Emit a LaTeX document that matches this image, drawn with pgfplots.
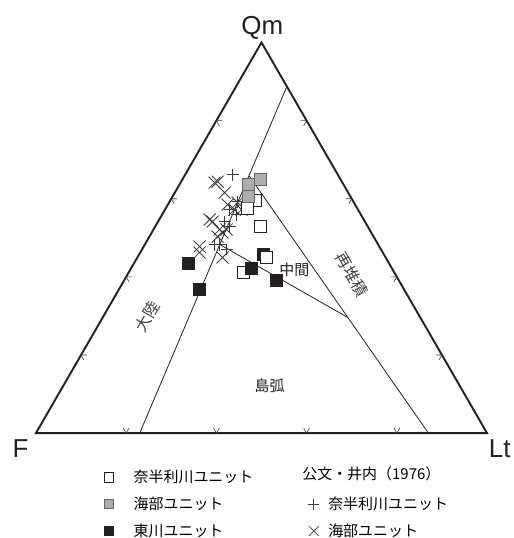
\documentclass[border=0pt]{standalone}
\usepackage{pgfplots}
\pgfplotsset{compat=1.18}
\usepackage{fontspec}
\setmainfont{Liberation Sans}
\newfontfamily\jp{Noto Sans CJK JP}
\definecolor{ink}{HTML}{231F20}
\definecolor{unitgray}{HTML}{ADADAD}
\definecolor{markgray}{HTML}{3A3A3A}

% ternary points in Cartesian form: F=(0,0), Lt=(100,0), Qm=(50,86.6)
\pgfplotstableread{
x y
48.67 51.55
46.90 49.78
49.78 45.80
46.02 35.62
}\nahari
\pgfplotstableread{
x y
51.11 38.94
}\nahariTop
\pgfplotstableread{
x y
49.78 56.19
47.12 55.09
47.12 52.43
}\kaifu
\pgfplotstableread{
x y
33.85 37.61
36.28 31.86
47.79 36.50
50.44 39.60
53.32 33.85
}\higashi
\pgfplotstableread{
x y
43.58 57.30
44.69 51.33
42.92 49.56
44.47 48.45
41.81 46.90
42.92 45.80
39.60 41.81
40.71 41.81
42.26 40.71
}\kumonA
\pgfplotstableread{
x y
39.60 55.53
40.27 55.75
41.81 53.32
42.48 50.66
44.69 51.11
44.03 49.56
45.58 49.56
38.50 47.35
39.16 46.90
40.71 45.13
42.26 45.13
40.27 43.58
41.37 44.47
36.28 41.37
36.28 40.04
41.37 38.94
}\kumonB

\begin{document}
\begin{tikzpicture}
\begin{axis}[
  hide axis, scale only axis, clip=false,
  width=514pt, height=538pt,
  xmin=-7.965, xmax=105.75, ymin=-23.01, ymax=96.02,
  legend style={draw=none, fill=none, inner sep=0pt, outer sep=0pt,
    at={(axis cs:15.15,-8.2)}, anchor=north west,
    font=\jp\fontsize{15}{15}\selectfont, legend columns=2,
    nodes={inner sep=0pt, text height=12pt, text depth=2pt},
    row sep=13pt,
    /tikz/column 1/.style={column sep=20pt},
    /tikz/column 2/.style={column sep=52pt},
    /tikz/column 3/.style={column sep=9pt}},
  legend cell align=left,
]
% fields
\draw[ink, line width=1.9pt, line join=miter] (axis cs:0,0) -- (axis cs:100,0) -- (axis cs:50,86.6) -- cycle;
\draw[ink, line width=0.8pt] (axis cs:23.0,0) -- (axis cs:55.6,76.8);
\draw[ink, line width=0.8pt] (axis cs:47.3,57.0) -- (axis cs:87.0,0);
\draw[ink, line width=0.8pt] (axis cs:40.8,41.8) -- (axis cs:69.2,25.6);
% side ticks
\pgfplotsinvokeforeach{20,40,60,80}{
  \draw[markgray, line width=0.6pt] (axis cs:#1-0.65,1.13) -- (axis cs:#1,0) -- (axis cs:#1+0.65,1.13);
}
\pgfplotsinvokeforeach{0.2,0.4,0.6,0.8}{
  \draw[markgray, line width=0.6pt] (axis cs:{50*#1+1.3},{86.6*#1}) -- (axis cs:{50*#1},{86.6*#1}) -- (axis cs:{50*#1+0.65},{86.6*#1-1.13});
  \draw[markgray, line width=0.6pt] (axis cs:{100-50*#1-1.3},{86.6*#1}) -- (axis cs:{100-50*#1},{86.6*#1}) -- (axis cs:{100-50*#1-0.65},{86.6*#1-1.13});
}
% data
\addplot[forget plot, only marks, mark=x, mark size=8.5pt, markgray, line width=0.85pt] table {\kumonB};
\addplot[forget plot, only marks, mark=+, mark size=6pt, markgray, line width=0.85pt] table {\kumonA};
\addplot[forget plot, only marks, mark=square*, mark size=5.8pt, draw=ink, fill=white, line width=0.8pt] table {\nahari};
\addplot[forget plot, only marks, mark=square*, mark size=5.8pt, draw=ink, fill=ink, line width=0.8pt] table {\higashi};
\addplot[forget plot, only marks, mark=square*, mark size=5.8pt, draw=ink, fill=white, line width=0.8pt] table {\nahariTop};
\addplot[forget plot, only marks, mark=square*, mark size=5.8pt, draw=black!60, fill=unitgray, line width=0.8pt] table {\kaifu};
% legend
\addlegendimage{only marks, mark=square*, mark size=4.7pt, draw=ink, fill=white, line width=0.6pt}
\addlegendentry{奈半利川ユニット}
\addlegendimage{empty legend}
\addlegendentry{\hspace*{-26pt}\smash{\raisebox{3pt}{公文・井内（1976）}}}
\addlegendimage{only marks, mark=square*, mark size=4.7pt, draw=black!60, fill=unitgray, line width=0.6pt}
\addlegendentry{海部ユニット}
\addlegendimage{only marks, mark=+, mark size=5.5pt, markgray, line width=0.7pt}
\addlegendentry{奈半利川ユニット}
\addlegendimage{only marks, mark=square*, mark size=4.7pt, draw=ink, fill=ink, line width=0.6pt}
\addlegendentry{東川ユニット}
\addlegendimage{only marks, mark=x, mark size=7pt, markgray, line width=0.7pt}
\addlegendentry{海部ユニット}
% labels
\node[anchor=base, font=\fontsize{26}{26}\selectfont, text=ink] at (axis cs:50.2,88.3) {Qm};
\node[anchor=base, font=\fontsize{26}{26}\selectfont, text=ink] at (axis cs:-3.4,-5.4) {F};
\node[anchor=base, font=\fontsize{26}{26}\selectfont, text=ink] at (axis cs:102.8,-5.4) {Lt};
\node[font=\jp\fontsize{16}{16}\selectfont, text=ink!85, rotate=60, inner sep=0pt] at (axis cs:24.6,25.9) {大陸};
\node[font=\jp\fontsize{16}{16}\selectfont, text=ink!85, rotate=-60, inner sep=0pt] at (axis cs:69.9,35.2) {再堆積};
\node[font=\jp\fontsize{15}{15}\selectfont, text=ink] at (axis cs:57.3,36.3) {中間};
\node[font=\jp\fontsize{15}{15}\selectfont, text=ink] at (axis cs:51.8,10.4) {島弧};
\path (rel axis cs:0,0) rectangle (rel axis cs:1,1);
\end{axis}
\end{tikzpicture}
\end{document}
